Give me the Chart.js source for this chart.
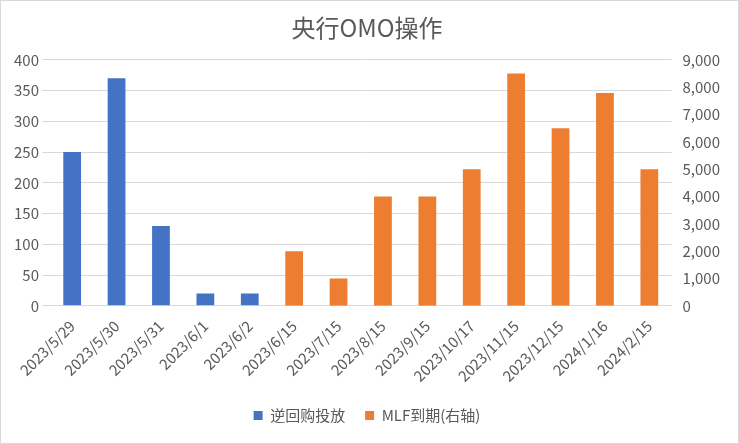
<!DOCTYPE html>
<html><head><meta charset="utf-8">
<script src="https://cdn.jsdelivr.net/npm/chart.js@4/dist/chart.umd.min.js"></script>
<style>body{margin:0;background:#fff}#wrap{width:739px;height:444px;box-sizing:border-box;border:1px solid #d9d9d9}canvas{display:block}</style>
</head><body><div id="wrap"><canvas id="c" width="737" height="442"></canvas></div>
<script>
const categories = ['2023/5/29','2023/5/30','2023/5/31','2023/6/1','2023/6/2','2023/6/15','2023/7/15','2023/8/15','2023/9/15','2023/10/17','2023/11/15','2023/12/15','2024/1/16','2024/2/15'];
const reverseRepo = [250, 370, 130, 20, 20, null, null, null, null, null, null, null, null, null];
const mlfMaturity = [null, null, null, null, null, 2000, 1000, 4000, 4000, 5000, 8500, 6500, 7790, 5000];

const font = {family: '"Noto Sans CJK SC", "Noto Sans", sans-serif', size: 15};
const tickColor = '#595959';

new Chart(document.getElementById('c'), {
  type: 'bar',
  data: {
    labels: categories,
    datasets: [{
      label: '逆回购投放',
      data: reverseRepo,
      backgroundColor: '#4472c4',
      yAxisID: 'y',
      barPercentage: 0.5,
      categoryPercentage: 0.8,
      grouped: false
    }, {
      label: 'MLF到期(右轴)',
      data: mlfMaturity,
      backgroundColor: '#ed7d31',
      yAxisID: 'y1',
      barPercentage: 0.5,
      categoryPercentage: 0.8,
      grouped: false
    }]
  },
  options: {
    responsive: false,
    animation: false,
    devicePixelRatio: 1,
    layout: {padding: {left: 10, right: 15, bottom: 10}},
    plugins: {
      title: {display: true, text: '央行OMO操作', color: '#595959',
        font: {family: font.family, size: 24, weight: 'normal'}, padding: {top: 12, bottom: 18}},
      legend: {position: 'bottom', labels: {color: tickColor, font: font, boxWidth: 9, boxHeight: 9, padding: 20}}
    },
    scales: {
      x: {
        grid: {display: false},
        border: {color: '#d9d9d9'},
        ticks: {color: tickColor, font: font, maxRotation: 45, minRotation: 45, autoSkip: false}
      },
      y: {
        position: 'left', min: 0, max: 400,
        ticks: {stepSize: 50, color: tickColor, font: font},
        grid: {color: '#d9d9d9'},
        border: {display: false}
      },
      y1: {
        position: 'right', min: 0, max: 9000,
        ticks: {stepSize: 1000, color: tickColor, font: font},
        grid: {display: false},
        border: {display: false}
      }
    }
  }
});
</script></body></html>
